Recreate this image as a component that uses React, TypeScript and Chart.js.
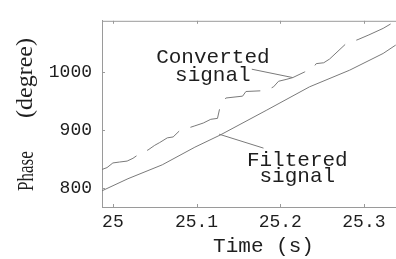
import React, { useEffect, useRef } from 'react';
import { Chart, registerables } from 'chart.js';

Chart.register(...registerables);

// ---- data ----
const filteredTime = [24.987, 25.018, 25.059, 25.098, 25.128, 25.184, 25.235, 25.283, 25.323, 25.338];
const filteredPhase = [795.8, 816.6, 840.5, 870.8, 891.5, 934.6, 974.5, 1003.2, 1031.9, 1046.3];

const convertedTime = [
  24.987, 24.993, 25.0, 25.008, 25.017, 25.024, 25.032, 25.042, 25.05, 25.056,
  25.065, 25.072, 25.08, 25.088, 25.098, 25.108, 25.117, 25.125, 25.128, 25.135,
  25.155, 25.159, 25.183, 25.192, 25.198, 25.207, 25.215, 25.229, 25.239, 25.243,
  25.252, 25.259, 25.278, 25.293, 25.306, 25.323, 25.338,
];
const convertedPhase = [
  832.5, 835.7, 843.7, 845.3, 846.9, 851.7, 859.6, 866.0, 874.0, 878.8,
  886.8, 888.4, 899.5, 902.7, 907.5, 912.3, 918.7, 920.3, 939.4, 955.3,
  958.5, 966.5, 968.1, 974.5, 984.1, 987.2, 990.4, 1000.0, 1006.4, 1014.4,
  1015.9, 1022.3, 1047.9, 1055.8, 1063.8, 1075.0, 1087.7,
];

const xTicks = [25, 25.1, 25.2, 25.3];
const yTicks = [800, 900, 1000];
const xLabel = 'Time (s)';
const yLabelWords = ['Phase', '(degree)'];

const convertedLabel = ['Converted', 'signal'];
const filteredLabel = ['Filtered', 'signal'];

// annotation anchors in data space
const convertedTextAt = { t: 25.1195, v: [1016, 984] };
const convertedLeader = [[25.166, 1004.8], [25.215, 990.4]];
const filteredTextAt = { t: 25.2204, v: [838.9, 811.8] };
const filteredLeader = [[25.127, 893.1], [25.18, 869.2]];

const X_MIN = 24.987;
const X_MAX = 25.373;
const Y_MIN = 768;
const Y_MAX = 1088;

const LINE = '#7a7a7a';
const AXIS = '#9a9a9a';
const TEXT = '#1e1e1e';
const MONO = '"Liberation Mono", monospace';
const SERIF = '"Liberation Serif", serif';

const decor = {
  id: 'decor',
  afterDraw(chart: any) {
    const { ctx, chartArea: a, scales } = chart;
    const xs = scales.x;
    const ys = scales.y;
    ctx.save();
    // top border
    ctx.strokeStyle = AXIS;
    ctx.lineWidth = 1;
    ctx.beginPath();
    ctx.moveTo(a.left, a.top + 0.5);
    ctx.lineTo(a.right, a.top + 0.5);
    ctx.stroke();
    // inward tick marks
    ctx.beginPath();
    xTicks.forEach((t) => {
      const px = Math.round(xs.getPixelForValue(t)) + 0.5;
      ctx.moveTo(px, a.bottom);
      ctx.lineTo(px, a.bottom - 3);
      ctx.moveTo(px, a.top);
      ctx.lineTo(px, a.top + 3);
    });
    yTicks.forEach((v) => {
      const py = Math.round(ys.getPixelForValue(v)) + 0.5;
      ctx.moveTo(a.left, py);
      ctx.lineTo(a.left + 3, py);
    });
    ctx.stroke();

    // leader lines
    ctx.strokeStyle = LINE;
    [convertedLeader, filteredLeader].forEach((ld) => {
      ctx.beginPath();
      ctx.moveTo(xs.getPixelForValue(ld[0][0]), ys.getPixelForValue(ld[0][1]));
      ctx.lineTo(xs.getPixelForValue(ld[1][0]), ys.getPixelForValue(ld[1][1]));
      ctx.stroke();
    });

    // annotation text
    ctx.fillStyle = TEXT;
    ctx.font = `21px ${MONO}`;
    ctx.textAlign = 'center';
    ctx.textBaseline = 'alphabetic';
    convertedLabel.forEach((s, i) => {
      ctx.fillText(s, xs.getPixelForValue(convertedTextAt.t), ys.getPixelForValue(convertedTextAt.v[i]));
    });
    filteredLabel.forEach((s, i) => {
      ctx.fillText(s, xs.getPixelForValue(filteredTextAt.t), ys.getPixelForValue(filteredTextAt.v[i]));
    });

    // y axis title (rotated)
    ctx.textAlign = 'left';
    ctx.font = `24px ${SERIF}`;
    ctx.save();
    ctx.translate(33, 191);
    ctx.rotate(-Math.PI / 2);
    ctx.scale(0.71, 1);
    ctx.fillText(yLabelWords[0], 0, 0);
    ctx.restore();
    ctx.save();
    ctx.translate(32, 118);
    ctx.rotate(-Math.PI / 2);
    ctx.fillText(yLabelWords[1], 0, 0);
    ctx.restore();
    ctx.restore();
  },
};

export default function App() {
  const ref = useRef<HTMLCanvasElement>(null);
  useEffect(() => {
    if (!ref.current) return;
    const chart = new Chart(ref.current, {
      type: 'line',
      data: {
        datasets: [
          {
            data: convertedTime.map((t, i) => ({ x: t, y: convertedPhase[i] })),
            borderColor: LINE,
            borderWidth: 1,
            borderDash: [38, 12],
            pointRadius: 0,
            tension: 0,
            fill: false,
          },
          {
            data: filteredTime.map((t, i) => ({ x: t, y: filteredPhase[i] })),
            borderColor: LINE,
            borderWidth: 1,
            pointRadius: 0,
            tension: 0,
            fill: false,
          },
        ],
      },
      options: {
        animation: false,
        responsive: false,
        events: [],
        layout: { padding: { top: 7, left: 0, right: 0, bottom: 0 } },
        plugins: { legend: { display: false }, tooltip: { enabled: false } },
        scales: {
          x: {
            type: 'linear',
            min: X_MIN,
            max: X_MAX,
            afterBuildTicks: (s: any) => {
              s.ticks = xTicks.map((value) => ({ value }));
            },
            afterFit: (s: any) => {
              s.height = 52;
            },
            grid: { display: false, drawTicks: false },
            border: { display: true, color: AXIS, width: 1 },
            ticks: {
              padding: 4,
              color: TEXT,
              font: { family: MONO, size: 18 },
              maxRotation: 0,
              autoSkip: false,
              callback: (v: any) => String(Number(Number(v).toFixed(1))),
            },
            title: {
              display: true,
              text: xLabel,
              color: TEXT,
              font: { family: MONO, size: 21 },
              padding: { top: 0, bottom: 0 },
            },
          },
          y: {
            type: 'linear',
            min: Y_MIN,
            max: Y_MAX,
            afterBuildTicks: (s: any) => {
              s.ticks = yTicks.map((value) => ({ value }));
            },
            afterFit: (s: any) => {
              s.width = 102;
            },
            grid: { display: false, drawTicks: false },
            border: { display: true, color: AXIS, width: 1 },
            ticks: {
              padding: 10,
              color: TEXT,
              font: { family: MONO, size: 18 },
              callback: (v: any) => String(v),
            },
            title: { display: false },
          },
        },
      },
      plugins: [decor],
    } as any);
    return () => chart.destroy();
  }, []);

  return (
    <div
      style={{
        position: 'fixed',
        left: 0,
        top: 0,
        width: 396,
        height: 259,
        overflow: 'hidden',
        background: '#fff',
      }}
    >
      <canvas ref={ref} width={425} height={259} style={{ display: 'block' }} />
    </div>
  );
}
